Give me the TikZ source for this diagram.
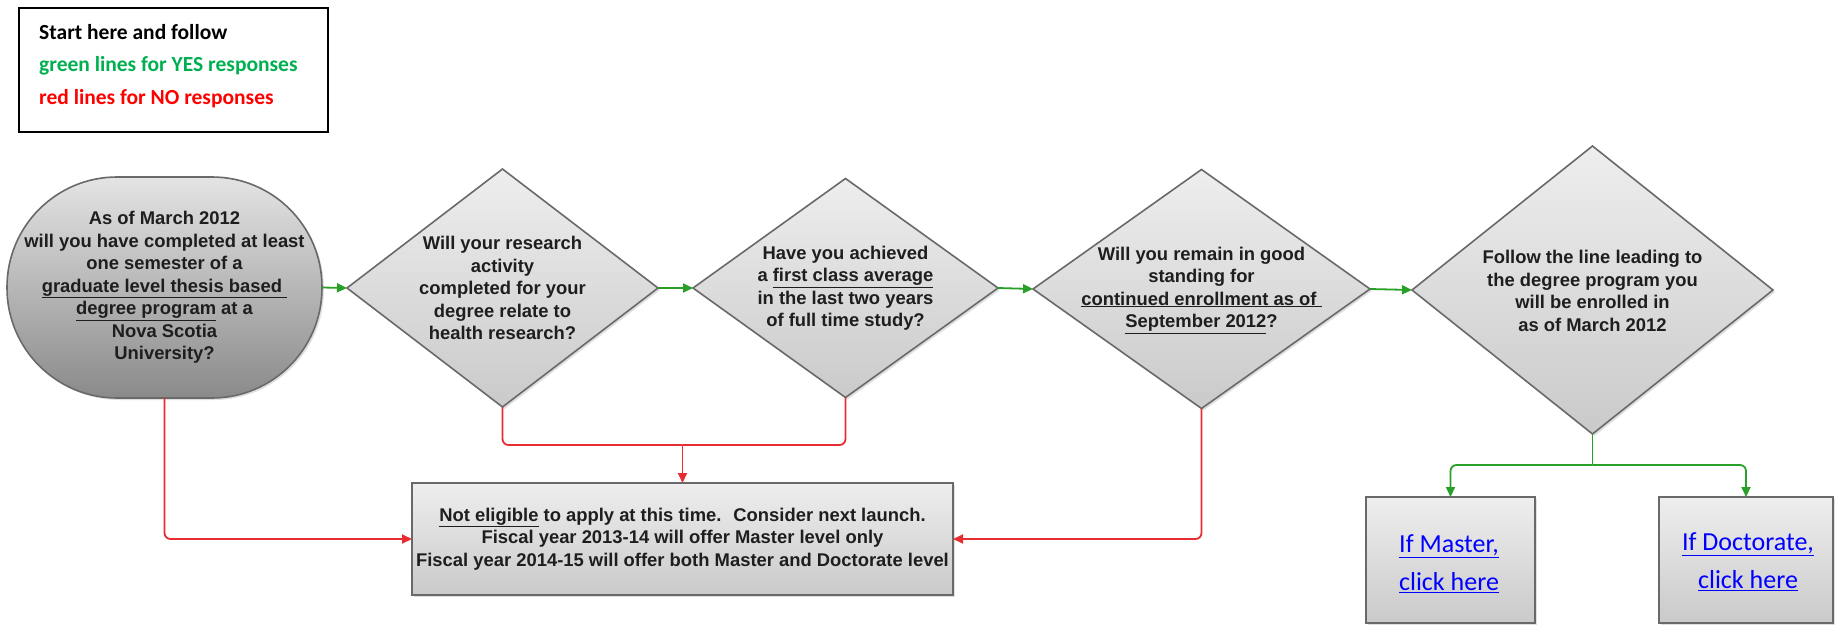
\documentclass[tikz,border=0pt]{standalone}
\usepackage{fontspec}
\setmainfont{Liberation Sans}
\newfontfamily\calib{Carlito}
\usetikzlibrary{shapes.geometric,arrows.meta,shadows}
\definecolor{shapeborder}{RGB}{105,105,105}
\definecolor{lighttop}{RGB}{238,238,238}
\definecolor{lightbot}{RGB}{202,202,202}
\definecolor{starttop}{RGB}{228,228,228}
\definecolor{startbot}{RGB}{138,138,138}
\definecolor{qtextc}{RGB}{30,30,30}
\definecolor{yesline}{RGB}{40,160,40}
\definecolor{noline}{RGB}{232,45,50}
\definecolor{legendgreen}{RGB}{0,176,80}
\definecolor{legendred}{RGB}{255,0,0}
\definecolor{linkblue}{RGB}{0,0,255}
\begin{document}
\begin{tikzpicture}[x=1pt,y=-1pt,
  shapebase/.style={draw=shapeborder,line width=1.6pt,top color=lighttop,bottom color=lightbot,
    drop shadow={shadow xshift=2pt,shadow yshift=-2pt,opacity=0.25},inner sep=0pt,outer sep=0pt},
  startshape/.style={shapebase,rectangle,rounded corners=110pt,top color=starttop,bottom color=startbot,
    minimum width=315pt,minimum height=221pt},
  decision/.style={shapebase,diamond},
  boxshape/.style={shapebase,rectangle},
  qtext/.style={align=center,font=\fontsize{18.4}{22.5}\selectfont\bfseries,text=qtextc,inner sep=0pt},
  linktext/.style={align=center,font=\calib\fontsize{26}{38}\selectfont,text=linkblue},
  yes/.style={draw=yesline,line width=1.8pt},
  no/.style={draw=noline,line width=1.8pt},
  tip/.style={-{Triangle[length=10pt,width=9pt]}},
  legendbox/.style={draw=black,line width=1.5pt,minimum width=309pt,minimum height=124pt,inner sep=0pt}
]
\useasboundingbox (0,0) rectangle (1837,624);

% legend
\node[legendbox] (lg) at (173.5,70) {};
\node[anchor=west,align=left,inner sep=0pt,font=\calib\bfseries\fontsize{21.5}{32.5}\selectfont] (lgt) at (39,66)
  {Start here and follow\\
   \textcolor{legendgreen}{green lines for YES responses}\\
   \textcolor{legendred}{red lines for NO responses}};

% start
\node[startshape] (s) at (164.5,287.5) {};
\node[qtext] (st) at (s.center) {As of March 2012\\will you have completed at least\\one semester of a\\\underline{graduate level thesis based~}\\\underline{degree program} at a\\Nova Scotia\\University?};

% decisions
\node[decision,minimum width=311pt,minimum height=238pt] (d1) at (502.5,288) {};
\node[qtext] (d1t) at (d1.center) {Will your research\\activity\\completed for your\\degree relate to\\health research?};

\node[decision,minimum width=305pt,minimum height=219pt] (d2) at (845.5,288) {};
\node[qtext] (d2t) at (d2.center) {Have you achieved\\a \underline{first class average}\\in the last two years\\of full time study?};

\node[decision,minimum width=337pt,minimum height=239pt] (d3) at (1201.5,289) {};
\node[qtext] (d3t) at (1201.5,290) {Will you remain in good\\standing for\\\underline{continued enrollment as of~}\\\underline{September 2012}?};

\node[decision,minimum width=361pt,minimum height=288pt] (d4) at (1592.5,290) {};
\node[qtext] (d4t) at (1592.5,291) {Follow the line leading to\\the degree program you\\will be enrolled in\\as of March 2012};

% not eligible box
\node[boxshape,minimum width=541pt,minimum height=112pt] (ne) at (682.5,539) {};
\node[qtext] (net) at (ne.center) {\underline{Not eligible} to apply at this time.~ Consider next launch.\\Fiscal year 2013-14 will offer Master level only\\Fiscal year 2014-15 will offer both Master and Doctorate level};

% link boxes
\node[boxshape,minimum width=169pt,minimum height=126pt] (ma) at (1450.5,560) {};
\node[linktext] (mat) at (1449,564) {\underline{If Master,}\\\underline{click here}};
\node[boxshape,minimum width=174pt,minimum height=126pt] (dr) at (1746,560) {};
\node[linktext] (drt) at (1748,562) {\underline{If Doctorate,}\\\underline{click here}};

% yes connectors
\draw[yes,tip] (s.east) -- (d1.west);
\draw[yes,tip] (d1.east) -- (d2.west);
\draw[yes,tip] (d2.east) -- (d3.west);
\draw[yes,tip] (d3.east) -- (d4.west);
\coordinate (split) at (1592.5,465);
\draw[yes,rounded corners=6pt] (d4.south) -- (split);
\draw[yes,tip,rounded corners=6pt] (split) -| (ma.north);
\draw[yes,tip,rounded corners=6pt] (split) -| (dr.north);

% no connectors
\coordinate (join) at (682.5,445);
\draw[no,tip,rounded corners=6pt] (s.south) |- (ne.west);
\draw[no,rounded corners=6pt] (d1.south) |- (join);
\draw[no,rounded corners=6pt] (d2.south) |- (join);
\draw[no,tip] (join) -- (ne.north);
\draw[no,tip,rounded corners=6pt] (d3.south) |- (ne.east);
\end{tikzpicture}
\end{document}
